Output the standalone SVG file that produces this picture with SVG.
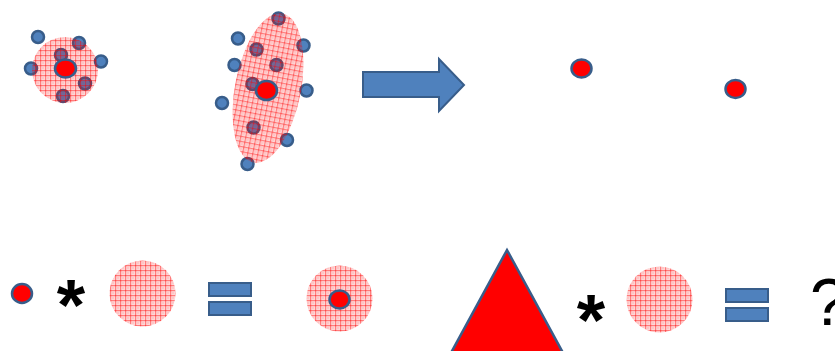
<svg xmlns="http://www.w3.org/2000/svg" width="835" height="351" viewBox="0 0 835 351">
<style>
.dot{fill:#4f81bd;stroke:#385d8a;stroke-width:2.5}
.red{fill:#ff0000;stroke:#385d8a;stroke-width:2.5}
.plaid{fill:url(#plaid)}
.eq{fill:#4f81bd;stroke:#385d8a;stroke-width:2}
.op{font-family:"Liberation Sans",Arial,sans-serif;fill:#000}
</style>
<defs>
<pattern id="plaid" width="5" height="5" patternUnits="userSpaceOnUse">
<rect width="5" height="5" fill="#ff0000" fill-opacity="0.16"/>
<rect x="0" y="0" width="5" height="1.2" fill="#ff0000" fill-opacity="0.42"/>
<rect x="0" y="0" width="1.2" height="5" fill="#ff0000" fill-opacity="0.42"/>
<rect x="2.5" y="2.5" width="1" height="1" fill="#ff0000" fill-opacity="0.3"/>
</pattern>
</defs>
<rect width="835" height="351" fill="#ffffff"/>

<g id="cluster-round">
<circle class="dot" cx="38" cy="37" r="6"/>
<circle class="dot" cx="79" cy="43" r="6"/>
<circle class="dot" cx="61" cy="55" r="6"/>
<circle class="dot" cx="101" cy="61.5" r="6"/>
<circle class="dot" cx="31" cy="68.5" r="6"/>
<circle class="dot" cx="85" cy="83.5" r="6"/>
<circle class="dot" cx="63" cy="96" r="6"/>
<circle class="plaid" cx="65" cy="70" r="33"/>
<ellipse class="red" cx="65.5" cy="68.5" rx="10.5" ry="9"/>
</g>

<g id="cluster-elongated">
<circle class="dot" cx="278.5" cy="18.5" r="6"/>
<circle class="dot" cx="238" cy="38.5" r="6"/>
<circle class="dot" cx="256.5" cy="49.5" r="6"/>
<circle class="dot" cx="303.5" cy="45.5" r="6"/>
<circle class="dot" cx="234.5" cy="65" r="6"/>
<circle class="dot" cx="276.5" cy="65" r="6"/>
<circle class="dot" cx="252.5" cy="84" r="6"/>
<circle class="dot" cx="306.5" cy="90.5" r="6"/>
<circle class="dot" cx="222" cy="103" r="6"/>
<circle class="dot" cx="253.5" cy="127.5" r="6"/>
<circle class="dot" cx="287" cy="140" r="6"/>
<circle class="dot" cx="247.5" cy="164" r="6"/>
<ellipse class="plaid" cx="268" cy="88" rx="33" ry="76" transform="rotate(11 268 88)"/>
<ellipse class="red" cx="266.5" cy="90.5" rx="10.5" ry="9.5"/>
</g>

<g id="arrow">
<polygon points="363,72 439,72 439,59 464,85 439,111 439,97 363,97" fill="#4f81bd" stroke="#385d8a" stroke-width="2" stroke-linejoin="miter"/>
</g>

<g id="result-dot-1">
<ellipse class="red" cx="581.5" cy="68.5" rx="10" ry="9"/>
</g>
<g id="result-dot-2">
<ellipse class="red" cx="735.5" cy="89" rx="10" ry="9"/>
</g>

<g id="eq1-dot">
<ellipse class="red" cx="22" cy="293.5" rx="10" ry="9.5"/>
</g>
<g id="eq1-times">
<text class="op" x="71" y="330" font-size="73" font-weight="bold" text-anchor="middle">*</text>
</g>
<g id="eq1-blob">
<circle class="plaid" cx="142.5" cy="293.5" r="33"/>
</g>
<g id="eq1-equals">
<rect class="eq" x="209" y="283" width="42" height="13"/>
<rect class="eq" x="209" y="302" width="42" height="13"/>
</g>
<g id="eq1-result">
<circle class="plaid" cx="339.5" cy="298.5" r="33"/>
<ellipse class="red" cx="339.5" cy="299.5" rx="10" ry="9"/>
</g>

<g id="eq2-triangle">
<polygon points="507,250 446,362 568,362" fill="#ff0000" stroke="#385d8a" stroke-width="2.5" stroke-linejoin="miter"/>
</g>
<g id="eq2-times">
<text class="op" x="591" y="345" font-size="73" font-weight="bold" text-anchor="middle">*</text>
</g>
<g id="eq2-blob">
<circle class="plaid" cx="659.5" cy="299.5" r="33"/>
</g>
<g id="eq2-equals">
<rect class="eq" x="726" y="289" width="42" height="13"/>
<rect class="eq" x="726" y="308" width="42" height="13"/>
</g>
<g id="eq2-result">
<text class="op" x="810" y="325" font-size="66">?</text>
</g>
</svg>
